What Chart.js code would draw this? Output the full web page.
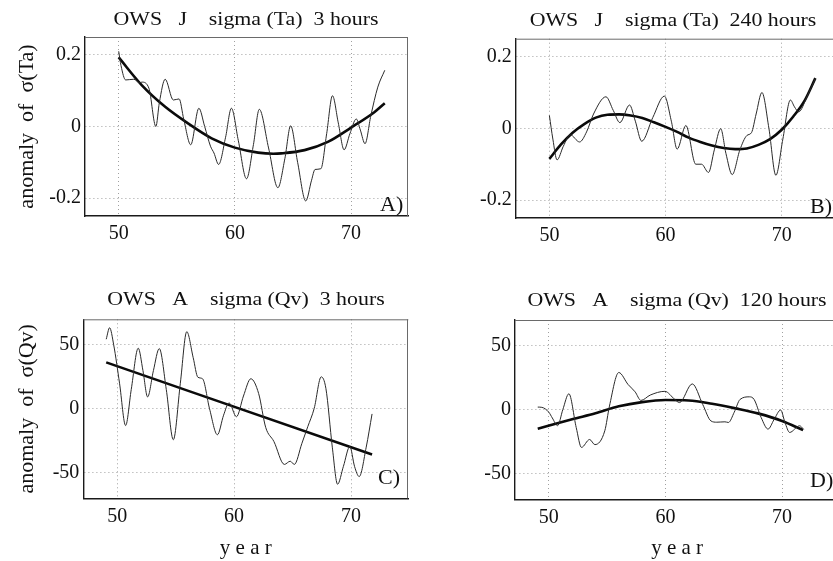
<!DOCTYPE html>
<html><head><meta charset="utf-8">
<script src="https://cdn.jsdelivr.net/npm/chart.js@4"></script>
<style>
html,body{margin:0;padding:0;background:#fff;}
#wrap{position:relative;width:833px;height:561px;overflow:hidden;background:#fff;}
canvas{position:absolute;}
</style></head><body>
<div id="wrap">
<canvas id="cA" width="416" height="280" style="left:0;top:0"></canvas>
<canvas id="cB" width="430" height="280" style="left:416px;top:0"></canvas>
<canvas id="cC" width="416" height="281" style="left:0;top:280px"></canvas>
<canvas id="cD" width="430" height="281" style="left:416px;top:280px"></canvas>
</div>
<script>
// ---- tick labels ----
const xTickValues = [50, 60, 70];
const taTickValues = [-0.2, 0, 0.2];
const qvTickValues = [-50, 0, 50];

// ---- panel texts ----
const panelTitles = ['OWS   J    sigma (Ta)  3 hours', 'OWS   J    sigma (Ta)  240 hours',
                     'OWS   A    sigma (Qv)  3 hours', 'OWS   A    sigma (Qv)  120 hours'];
const panelLetters = ['A)', 'B)', 'C)', 'D)'];
const yTitleTa = 'anomaly  of  σ(Ta)';
const yTitleQv = 'anomaly  of  σ(Qv)';
const xTitle = 'y e a r';

// ---- Panel A: sigma(Ta) 3 hours ----
const aYears = [50.0,50.2,50.6,51.3,51.8,52.0,52.6,53.2,53.5,54.0,54.7,55.2,55.6,56.2,56.9,57.4,57.9,58.2,58.6,59.2,59.7,60.3,61.0,61.6,62.1,62.9,63.7,64.3,64.8,65.4,66.1,66.6,66.9,67.4,67.9,68.4,68.9,69.4,69.9,70.45,70.8,71.2,71.7,72.3,72.9];
const aValues = [0.21,0.17,0.13,0.132,0.122,0.124,0.107,0.0,0.067,0.132,0.074,0.077,0.02,-0.051,0.051,0.0,-0.055,-0.074,-0.106,-0.03,0.051,-0.04,-0.146,-0.05,0.048,-0.06,-0.171,-0.09,0.002,-0.1,-0.208,-0.15,-0.12,-0.118,-0.02,0.086,0.01,-0.065,-0.02,0.021,-0.01,-0.048,0.03,0.11,0.157];
const aFitYears = [50,52,54,56,58,60,62,63.3,64,66,68,70,72,72.9];
const aFitValues = [0.193,0.115,0.055,0.008,-0.033,-0.059,-0.073,-0.076,-0.075,-0.066,-0.043,-0.003,0.04,0.065];

// ---- Panel B: sigma(Ta) 240 hours ----
const bYears = [50.0,50.3,50.66,51.2,51.8,52.6,53.2,53.8,54.87,55.5,56.07,56.9,57.4,57.95,58.9,59.9,60.5,61.0,61.75,62.6,63.1,63.7,64.2,64.75,65.2,65.74,66.4,67.0,67.4,67.8,68.3,68.9,69.5,70.1,70.75,71.1,71.46,72.2,72.9];
const bValues = [0.036,-0.03,-0.088,-0.05,-0.018,-0.038,-0.01,0.04,0.088,0.05,0.016,0.065,0.02,-0.036,0.03,0.09,0.02,-0.058,0.008,-0.1,-0.1,-0.123,-0.06,-0.001,-0.07,-0.129,-0.06,-0.02,-0.012,0.04,0.1,0.0,-0.131,-0.03,0.079,0.06,0.046,0.09,0.139];
const bFitYears = [50,51,52,53,54,55,56,57,58,59,60,61,62,63,64,65,66,67,68,69,70,71,72,72.9];
const bFitValues = [-0.085,-0.045,-0.012,0.012,0.03,0.038,0.039,0.036,0.029,0.017,0.004,-0.01,-0.026,-0.038,-0.048,-0.055,-0.058,-0.056,-0.046,-0.03,-0.004,0.033,0.079,0.14];

// ---- Panel C: sigma(Qv) 3 hours ----
const cYears = [49.06,49.35,49.7,50.2,50.72,51.2,51.8,52.2,52.6,53.1,53.6,54.2,54.8,55.4,55.95,56.5,56.9,57.3,57.9,58.57,59.1,59.57,60.2,60.8,61.43,62.1,62.7,63.4,64.3,64.8,65.15,65.8,66.3,66.85,67.45,67.85,68.4,68.85,69.35,69.9,70.3,70.7,71.3,71.8];
const cValues = [54.4,63.4,50,20,-13.1,15,47.4,30,9.3,30,47.1,15,-24.2,20,60.3,40,24.7,23.5,0,-20.3,-5,4.6,-6.2,10,23.5,11.9,-14.5,-25.5,-43.5,-41,-43.5,-27,-14,0.3,25,16,-30,-59,-45,-29.5,-45,-53,-30,-4];
const cFitYears = [49.06,71.8];
const cFitValues = [36.3,-35.8];

// ---- Panel D: sigma(Qv) 120 hours ----
const dYears = [49.05,49.4,50.0,50.3,50.75,51.2,51.72,52.35,52.8,53.5,53.95,54.8,55.2,56.0,56.8,57.4,57.9,58.7,59.95,60.8,61.2,62.3,63.2,63.9,64.4,65.1,65.4,65.9,66.4,67.2,67.6,68.2,68.8,69.3,69.88,70.25,70.65,71.5,71.85];
const dValues = [2,1.8,-2,-6.5,-12.5,0,12.4,-14,-29.5,-23.3,-27.3,-16.5,2.8,29,19.6,13.9,7.2,11.4,14.3,8,5.5,20.1,4,-8.8,-9.8,-9.5,-10,-2,8,10,8,-6,-15.2,-8,-0.3,-10,-17.8,-12.6,-15.3];
const dFitYears = [49.05,52,54,56,58,60,62,64,66,68,70,71.8];
const dFitValues = [-14.9,-7.5,-2.8,2.6,5.9,7.5,7.2,4.6,1.0,-3.1,-8.8,-16];

const SERIF = "'Liberation Serif', 'Times New Roman', serif";

const panelText = {
  id: 'panelText',
  afterDraw(chart, args, o) {
    const ctx = chart.ctx, ca = chart.chartArea;
    ctx.save();
    // frame top/right
    ctx.strokeStyle = '#6a6a6a'; ctx.lineWidth = 1;
    ctx.beginPath();
    ctx.moveTo(ca.left, ca.top + 0.5); ctx.lineTo(ca.right, ca.top + 0.5);
    ctx.moveTo(Math.round(ca.right) - 0.5, ca.top); ctx.lineTo(Math.round(ca.right) - 0.5, ca.bottom);
    ctx.stroke();
    ctx.fillStyle = '#111';
    ctx.textBaseline = 'alphabetic';
    ctx.font = '19px ' + SERIF;
    ctx.textAlign = 'center';
    ctx.translate(o.tx, o.ty); ctx.scale(1.15, 1);
    ctx.fillText(o.title, 0, 0);
    ctx.restore();
    ctx.save();
    ctx.fillStyle = '#111';
    ctx.font = '20px ' + SERIF;
    ctx.textAlign = 'left';
    ctx.textBaseline = 'alphabetic';
    ctx.translate(o.lx, o.ly); ctx.scale(1.1, 1);
    ctx.fillText(o.label, 0, 0);
    ctx.restore();
  }
};

function pts(xs, ys) { return xs.map((x, i) => ({x: x, y: ys[i]})); }

function makeChart(id, p) {
  const tickFont = {family: SERIF, size: 20};
  new Chart(document.getElementById(id), {
    type: 'line',
    data: {datasets: [
      {data: pts(p.xs, p.ys), borderColor: '#2a2a2a', borderWidth: 1, pointRadius: 0, cubicInterpolationMode: 'monotone', fill: false},
      {data: pts(p.fx, p.fy), borderColor: '#0a0a0a', borderWidth: 2.6, pointRadius: 0, cubicInterpolationMode: 'monotone', fill: false}
    ]},
    options: {
      responsive: false, animation: false, events: [],
      layout: {padding: {left: 0, right: p.padR, top: p.padT, bottom: 0}},
      plugins: {legend: {display: false}, tooltip: {enabled: false}, title: {display: false},
        panelText: {title: p.title, tx: p.tx, ty: p.ty, label: p.label, lx: p.lx, ly: p.ly}},
      scales: {
        x: {type: 'linear', min: 47.1, max: 74.9,
          afterBuildTicks: s => { s.ticks = xTickValues.map(v => ({value: v})); },
          afterFit: s => { s.height = p.xh; },
          ticks: {padding: 6, color: '#111', font: tickFont, maxRotation: 0, autoSkip: false, callback: v => String(v)},
          grid: {color: '#a0a0a0', lineWidth: 1, drawTicks: false},
          border: {color: '#1a1a1a', width: 1.4, dash: [1, 3]},
          title: {display: !!p.xTitle, text: p.xTitle || '', color: '#111', font: {family: SERIF, size: 21}, padding: {top: 0, bottom: p.xtPad || 0}}
        },
        y: {type: 'linear', min: p.ymin, max: p.ymax,
          afterBuildTicks: s => { s.ticks = p.yt.map(v => ({value: v})); },
          afterFit: s => { s.width = p.yw; },
          ticks: {padding: 4, color: '#111', font: tickFont, callback: v => String(v)},
          grid: {color: '#a0a0a0', lineWidth: 1, drawTicks: false},
          border: {color: '#1a1a1a', width: 1.4, dash: [1, 3]},
          title: {display: !!p.yTitle, text: p.yTitle || '', color: '#111', font: {family: SERIF, size: 22}, padding: {top: 14, bottom: 0}}
        }
      }
    },
    plugins: [panelText]
  });
}

makeChart('cA', {xs: aYears, ys: aValues, fx: aFitYears, fy: aFitValues, ymin: -0.25, ymax: 0.25, yt: taTickValues,
  padR: 8, padT: 37, yw: 85, xh: 64, yTitle: yTitleTa, title: panelTitles[0], tx: 246, ty: 25, label: panelLetters[0], lx: 380, ly: 211});
makeChart('cB', {xs: bYears, ys: bValues, fx: bFitYears, fy: bFitValues, ymin: -0.25, ymax: 0.25, yt: taTickValues,
  padR: 7.4, padT: 38.7, yw: 99.7, xh: 62, title: panelTitles[1], tx: 257, ty: 26, label: panelLetters[1], lx: 394, ly: 213});
makeChart('cC', {xs: cYears, ys: cValues, fx: cFitYears, fy: cFitValues, ymin: -70, ymax: 70, yt: qvTickValues,
  padR: 7.7, padT: 39.3, yw: 83.3, xh: 62.7, yTitle: yTitleQv, xTitle: xTitle, xtPad: 0, title: panelTitles[2], tx: 246, ty: 25, label: panelLetters[2], lx: 378, ly: 204});
makeChart('cD', {xs: dYears, ys: dValues, fx: dFitYears, fy: dFitValues, ymin: -70, ymax: 70, yt: qvTickValues,
  padR: 6.8, padT: 40, yw: 99, xh: 61.7, xTitle: xTitle, xtPad: 0, title: panelTitles[3], tx: 261, ty: 26, label: panelLetters[3], lx: 394, ly: 207});
</script>
</body></html>
